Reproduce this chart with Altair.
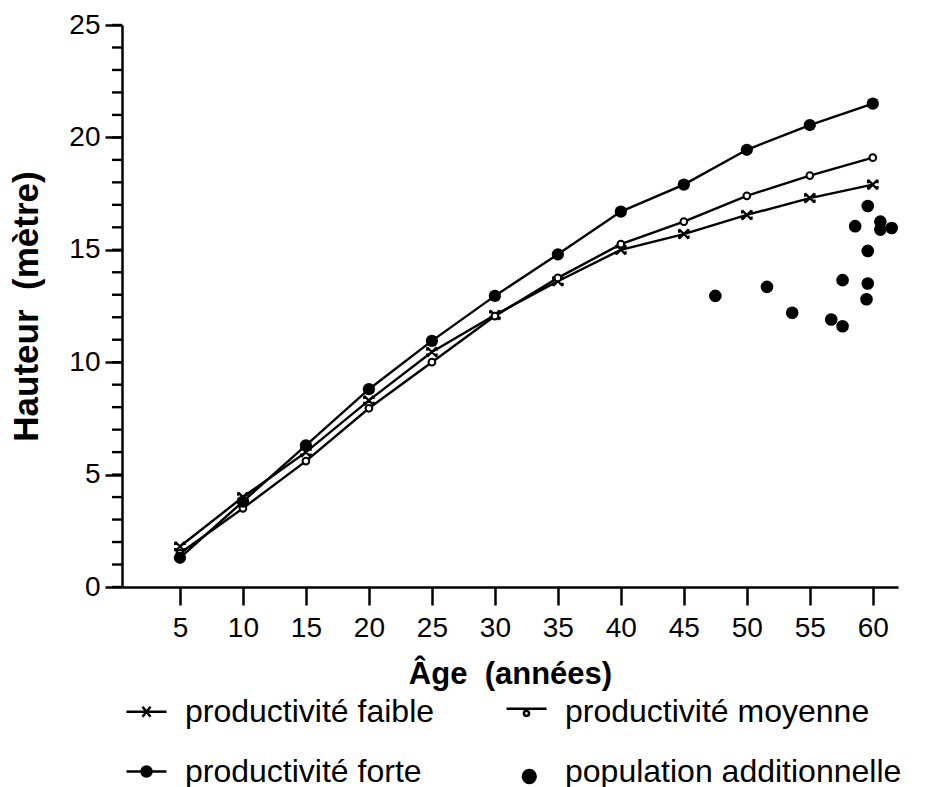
import altair as alt
import pandas as pd

# ---- data ----
ages = [5, 10, 15, 20, 25, 30, 35, 40, 45, 50, 55, 60]
faible = [1.8, 4.0, 6.0, 8.3, 10.45, 12.1, 13.6, 15.0, 15.7, 16.55, 17.3, 17.9]
moyenne = [1.5, 3.5, 5.6, 7.95, 10.0, 12.05, 13.75, 15.25, 16.25, 17.4, 18.3, 19.1]
forte = [1.3, 3.8, 6.3, 8.8, 10.95, 12.95, 14.8, 16.7, 17.9, 19.45, 20.55, 21.5]

pop_age = [47.5, 51.6, 53.6, 56.7, 57.6, 57.6, 58.6, 59.6, 59.6, 59.6, 59.5, 60.6, 60.6, 61.5]
pop_haut = [12.95, 13.35, 12.2, 11.9, 11.6, 13.65, 16.05, 16.95, 14.95, 13.5, 12.8, 16.25, 15.9, 15.97]

y_major = [0, 5, 10, 15, 20, 25]
y_minor = list(range(0, 26))
# legend is filled column by column: first column, then second column
legend_names = ["productivité faible", "productivité forte",
                "productivité moyenne", "population additionnelle"]

FONT = "Liberation Sans"

rows = []
for name, vals in (("faible", faible), ("moyenne", moyenne), ("forte", forte)):
    for a, h in zip(ages, vals):
        rows.append({"serie": name, "age": a, "hauteur": h})
courbes = pd.DataFrame(rows)
pop = pd.DataFrame({"age": pop_age, "hauteur": pop_haut})
leg = pd.DataFrame({"serie": legend_names})
minor = pd.DataFrame({"hauteur": y_minor})

x_enc = alt.X(
    "age:Q",
    scale=alt.Scale(domain=[0.4, 62], nice=False, zero=False),
    axis=alt.Axis(
        values=ages, title="Âge\u00a0\u00a0(années)", grid=False,
        tickSize=18, tickWidth=2.5, tickColor="black",
        domainColor="black", domainWidth=2.5,
        labelFont=FONT, labelFontSize=28, labelColor="black", labelPadding=9,
        titleFont=FONT, titleFontSize=31, titleFontWeight="bold", titleColor="black",
        titlePadding=17,
    ),
)
y_enc = alt.Y(
    "hauteur:Q",
    scale=alt.Scale(domain=[0, 25], nice=False),
    axis=alt.Axis(
        values=y_major, grid=False, title="Hauteur\u00a0\u00a0(mètre)", orient="left",
        tickSize=17, tickWidth=2.5, tickColor="black",
        domainColor="black", domainWidth=2.5,
        labelFont=FONT, labelFontSize=28, labelColor="black", labelPadding=5,
        titleFont=FONT, titleFontSize=35, titleFontWeight="bold", titleColor="black",
        titlePadding=24,
    ),
)

# minor ticks every metre along the y axis (outside the plot, 10 px long)
minor_ticks = alt.Chart(minor).mark_tick(
    orient="horizontal", color="black", thickness=2.4, size=10, opacity=1, clip=False
).encode(y=y_enc, x=alt.value(-5))

lines = alt.Chart(courbes).mark_line(color="black", strokeWidth=2.4).encode(
    x=x_enc, y=y_enc, detail="serie:N"
)

xshape = "M-1,-1L1,1M1,-1L-1,1M-1,-1V-0.3M1,-1V-0.3M-1,1V0.3M1,1V0.3"
pts_faible = alt.Chart(courbes).transform_filter(alt.datum.serie == "faible").mark_point(
    shape=xshape, size=90, stroke="black", strokeWidth=2.2, opacity=1
).encode(x=x_enc, y=y_enc)
pts_moyenne = alt.Chart(courbes).transform_filter(alt.datum.serie == "moyenne").mark_point(
    shape="circle", size=45, stroke="black", fill="white", strokeWidth=2, opacity=1
).encode(x=x_enc, y=y_enc)
pts_forte = alt.Chart(courbes).transform_filter(alt.datum.serie == "forte").mark_point(
    shape="circle", size=150, color="black", filled=True, opacity=1
).encode(x=x_enc, y=y_enc)
pts_pop = alt.Chart(pop).mark_point(
    shape="circle", size=160, color="black", filled=True, opacity=1
).encode(x=x_enc, y=y_enc)

sym_faible = "M-1,0H1M-0.2,-0.25L0.2,0.25M0.2,-0.25L-0.2,0.25"
sym_moyenne = "M-1,-0.15H1M-0.13,0.08A0.13,0.13 0 1,0 0.13,0.08A0.13,0.13 0 1,0 -0.13,0.08Z"
sym_forte = "M-1,0H1M-0.25,0A0.25,0.25 0 1,0 0.25,0A0.25,0.25 0 1,0 -0.25,0Z"
sym_pop = "M-0.18,0.25A0.32,0.32 0 1,0 0.46,0.25A0.32,0.32 0 1,0 -0.18,0.25Z"

legend_layer = alt.Chart(leg).transform_filter("false").mark_point(
    strokeWidth=2.5, opacity=1
).encode(
    shape=alt.Shape(
        "serie:N",
        sort=legend_names,
        scale=alt.Scale(domain=legend_names, range=[sym_faible, sym_forte, sym_moyenne, sym_pop]),
        legend=alt.Legend(
            orient="none", legendX=3, legendY=665, columns=2, columnPadding=66,
            rowPadding=22, symbolSize=1600, symbolStrokeWidth=2.5,
            symbolOpacity=1,
            labelFont=FONT, labelFontSize=32, labelColor="black", labelLimit=600,
            labelOffset=17,
        ),
        title=None,
    ),
    fill=alt.Fill(
        "serie:N",
        sort=legend_names,
        scale=alt.Scale(domain=legend_names, range=["white", "black", "white", "black"]),
        title=None,
    ),
    stroke=alt.Stroke(
        "serie:N",
        sort=legend_names,
        scale=alt.Scale(domain=legend_names, range=["black", "black", "black", "black"]),
        title=None,
    ),
)

chart = alt.layer(
    minor_ticks, lines, pts_faible, pts_moyenne, pts_forte, pts_pop, legend_layer
).properties(
    width=776, height=562,
    autosize=alt.AutoSizeParams(type="none"),
    padding={"left": 122, "top": 25, "right": 33, "bottom": 200},
    background="white",
).configure_view(strokeWidth=0)

chart.save("out.html", embed_options={"renderer": "svg", "actions": False})
